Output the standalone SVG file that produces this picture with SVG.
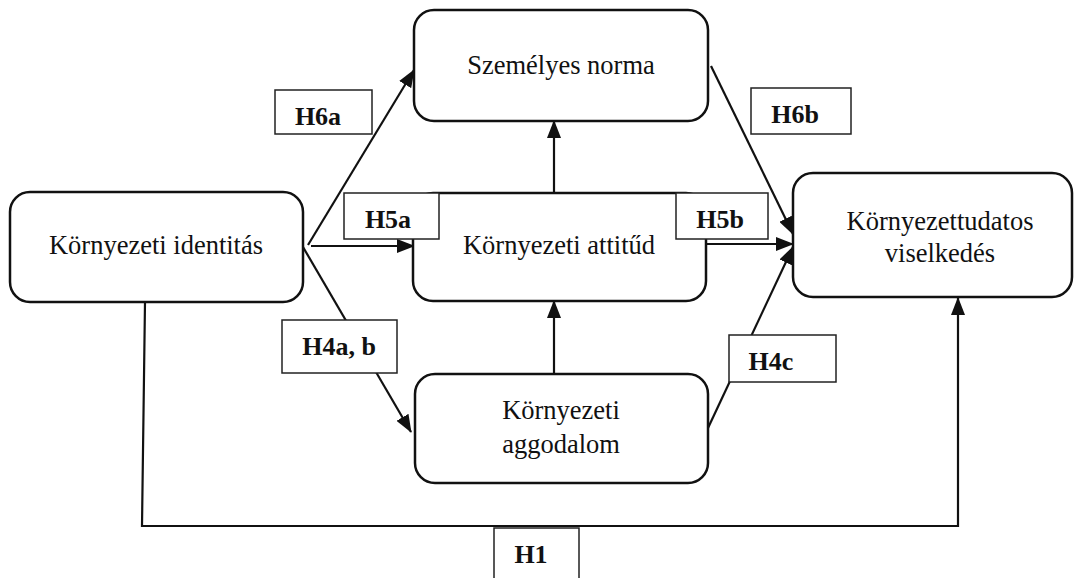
<svg xmlns="http://www.w3.org/2000/svg" width="1075" height="578" viewBox="0 0 1075 578">
<style>
.node{fill:#fff;stroke:#111;stroke-width:2.5}
.nt{font-family:"Liberation Serif","Times New Roman",serif;font-size:26.5px;fill:#111;text-anchor:middle}
.lb{fill:#fff;stroke:#222;stroke-width:1.5}
.lt{font-family:"Liberation Serif","Times New Roman",serif;font-size:26px;font-weight:bold;fill:#111;text-anchor:middle}
.c{fill:none;stroke:#111;stroke-width:2.2}
</style>
<defs>
<marker id="ah" markerUnits="userSpaceOnUse" markerWidth="18" markerHeight="14" refX="17" refY="7" orient="auto">
<path d="M0,0 L18,7 L0,14 Z" fill="#111"/>
</marker>
</defs>
<g id="connectors">
<path class="c" d="M308,245 L414,70" marker-end="url(#ah)"/>
<path class="c" d="M311,246 L414,246" marker-end="url(#ah)"/>
<path class="c" d="M303,247 L411,432" marker-end="url(#ah)"/>
<path class="c" d="M554,192 L554,121" marker-end="url(#ah)"/>
<path class="c" d="M554,374 L554,301" marker-end="url(#ah)"/>
<path class="c" d="M711,66 L793,234" marker-end="url(#ah)"/>
<path class="c" d="M706,244 L793,244" marker-end="url(#ah)"/>
<path class="c" d="M708,428 L793,247" marker-end="url(#ah)"/>
<path class="c" d="M145,302 L142,526 L958,526 L958,298" marker-end="url(#ah)"/>
</g>
<g id="node-norma">
<rect class="node" x="414" y="10" width="294" height="111" rx="20"/>
<text class="nt" x="561" y="74">Személyes norma</text>
</g>
<g id="node-identitas">
<rect class="node" x="10" y="192" width="293" height="110" rx="20"/>
<text class="nt" x="156" y="254">Környezeti identitás</text>
</g>
<g id="node-attitud">
<rect class="node" x="413" y="193" width="293" height="108" rx="20"/>
<text class="nt" x="559" y="254">Környezeti attitűd</text>
</g>
<g id="node-aggodalom">
<rect class="node" x="415" y="374" width="293" height="109" rx="20"/>
<text class="nt" x="561" y="419">Környezeti</text>
<text class="nt" x="561" y="453">aggodalom</text>
</g>
<g id="node-viselkedes">
<rect class="node" x="793" y="173" width="279" height="124" rx="20"/>
<text class="nt" x="940" y="230">Környezettudatos</text>
<text class="nt" x="940" y="262">viselkedés</text>
</g>
<g id="label-H6a">
<rect class="lb" x="275" y="90" width="97" height="44"/>
<text class="lt" x="318" y="125">H6a</text>
</g>
<g id="label-H5a">
<rect class="lb" x="344" y="193" width="95" height="46"/>
<text class="lt" x="388" y="228">H5a</text>
</g>
<g id="label-H6b">
<rect class="lb" x="751" y="88" width="100" height="46"/>
<text class="lt" x="795" y="123">H6b</text>
</g>
<g id="label-H5b">
<rect class="lb" x="676" y="193" width="92" height="46"/>
<text class="lt" x="720" y="228">H5b</text>
</g>
<g id="label-H4ab">
<rect class="lb" x="282" y="320" width="115" height="53"/>
<text class="lt" x="339" y="355">H4a, b</text>
</g>
<g id="label-H4c">
<rect class="lb" x="729" y="335" width="107" height="47"/>
<text class="lt" x="771" y="370">H4c</text>
</g>
<g id="label-H1">
<rect class="lb" x="494" y="528" width="85" height="60"/>
<text class="lt" x="531" y="563">H1</text>
</g>
</svg>
